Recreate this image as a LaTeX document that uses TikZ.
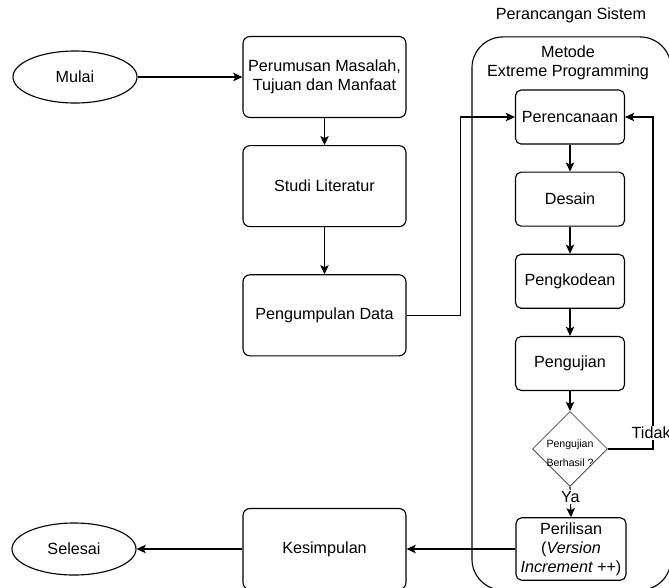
\documentclass[tikz,border=0pt]{standalone}
\usepackage{fontspec}
\setmainfont{Liberation Sans}
\usepackage{tikz}
\usetikzlibrary{positioning, arrows.meta, shapes.geometric}

\begin{document}
\begin{tikzpicture}[
    x=0.025cm, y=-0.025cm,
    font=\fontsize{11.5}{13.5}\selectfont,
    block/.style={draw, rounded corners=5pt, line width=0.8pt, minimum width=4.075cm, minimum height=2.025cm, align=center},
    stepbox/.style={draw, rounded corners=4pt, line width=0.8pt, minimum width=2.725cm, minimum height=1.35cm, align=center},
    terminal/.style={draw, ellipse, line width=0.8pt, minimum width=3.1cm, minimum height=1.3cm},
    arrow/.style={-{Stealth[length=6.5pt, width=6pt, inset=1.5pt]}, line width=0.8pt}
]
\useasboundingbox (0,0) rectangle (669,587);
\clip (0,0) rectangle (669,587);

% kolom kiri
\node[terminal] (mulai) at (75,77) {Mulai};
\node[block] (rumus) at (324.5,77) {Perumusan Masalah,\\Tujuan dan Manfaat};
\node[block, below=0.675cm of rumus] (studi) {Studi Literatur};
\node[block, below=1.175cm of studi] (kumpul) {Pengumpulan Data};
\node[block] (simpul) at (324.5,549) {Kesimpulan};
\node[terminal] (selesai) at (74,549) {Selesai};

% perancangan sistem
\node[draw, rounded corners=22pt, line width=0.8pt, minimum width=4.975cm, minimum height=13.825cm] (xp) at (571.5,313.5) {};
\node (judul) at (571,15) {Perancangan Sistem};
\node[align=center] (metode) at (568,63) {Metode\\Extreme Programming};

\node[stepbox] (rencana) at (570,117) {Perencanaan};
\node[stepbox, below=0.675cm of rencana] (desain) {Desain};
\node[stepbox, below=0.675cm of desain] (kode) {Pengkodean};
\node[stepbox, below=0.675cm of kode] (uji) {Pengujian};
\node[draw, diamond, aspect=1, line width=0.6pt, draw=black!70, inner sep=0pt, minimum size=1.875cm, below=0.5cm of uji] (cek) {};
\node[align=center, font=\fontsize{7.5}{13.5}\selectfont] (cektxt) at ([yshift=-0.1cm]cek.center) {Pengujian\\Berhasil ?};
\node[stepbox] (rilis) at (571,549) {Perilisan\\(\textit{Version}\\\textit{Increment ++})};

\draw[arrow] (mulai) -- (rumus);
\draw[arrow] (rumus) -- (studi);
\draw[arrow] (studi) -- (kumpul);
\draw[arrow] (kumpul.east) -- ++(54,0) |- (rencana.west);
\draw[arrow] (rencana) -- (desain);
\draw[arrow] (desain) -- (kode);
\draw[arrow] (kode) -- (uji);
\draw[arrow] (uji) -- (cek);
\draw[arrow] (cek.south) -- node[pos=0.33, fill=white, inner sep=1pt] {Ya} (rilis.north);
\draw[arrow] (cek.east) -- ++(45,0) |- (rencana.east);
\node[anchor=west, inner sep=1pt, fill=white] (tidak) at (630,433) {Tidak};
\draw[arrow] (rilis) -- (simpul);
\draw[arrow] (simpul) -- (selesai);

\end{tikzpicture}
\end{document}
